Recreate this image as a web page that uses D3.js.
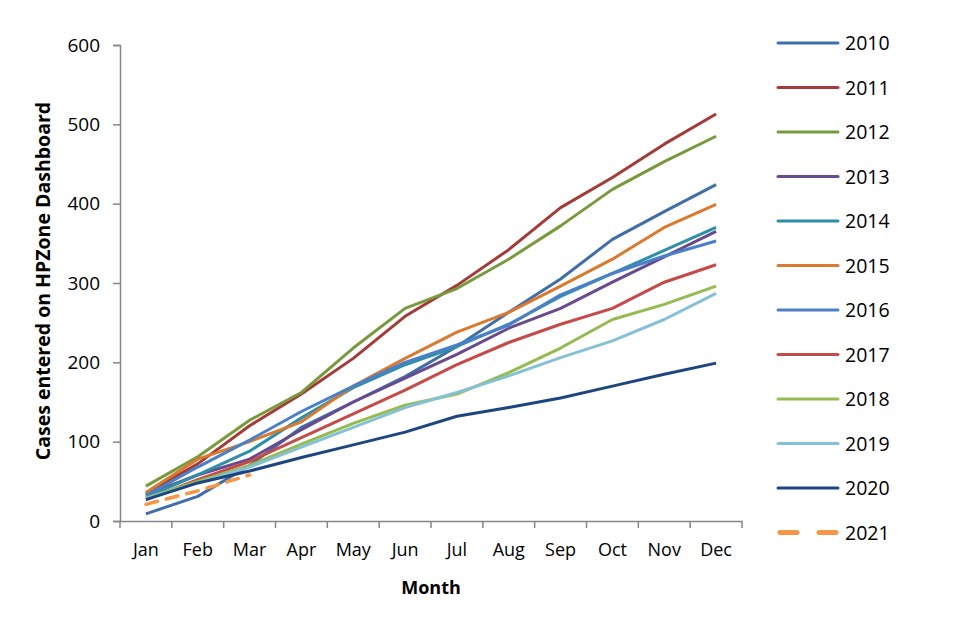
<!DOCTYPE html>
<html lang="en">
<head>
  <meta charset="UTF-8">
  <title></title>
  <style>
    html, body {
      margin: 0;
      overflow: hidden;
      width: 100%;
      height: 100%;
      background: #fff;
    }
    svg {
      position: absolute;
      top: 0;
      left: 0;
    }
  </style>
</head>
<body>
  <svg width="960" height="640"></svg>
</body>
<script src="https://d3js.org/d3.v7.min.js"></script>
<script type="text/javascript">
  const months = ['Jan', 'Feb', 'Mar', 'Apr', 'May', 'Jun', 'Jul', 'Aug', 'Sep', 'Oct', 'Nov', 'Dec']
  const years = ['2010', '2011', '2012', '2013', '2014', '2015', '2016', '2017', '2018', '2019', '2020', '2021']
  const yTicks = [0, 100, 200, 300, 400, 500, 600]

  // cumulative cases per month, one array per year
  const y2010 = [9, 31, 70, 118, 150, 182, 220, 263, 305, 355, 390, 424]
  const y2011 = [35, 72, 120, 160, 205, 258, 297, 342, 395, 433, 475, 513]
  const y2012 = [44, 81, 127, 162, 218, 268, 293, 330, 372, 418, 453, 485]
  const y2013 = [33, 58, 78, 115, 150, 180, 210, 243, 268, 301, 333, 365]
  const y2014 = [30, 58, 88, 130, 168, 197, 220, 248, 283, 312, 341, 370]
  const y2015 = [36, 78, 100, 125, 170, 205, 238, 263, 296, 330, 370, 399]
  const y2016 = [32, 68, 102, 138, 170, 200, 222, 247, 285, 312, 334, 353]
  const y2017 = [27, 52, 75, 105, 135, 165, 197, 225, 248, 268, 301, 323]
  const y2018 = [29, 50, 70, 97, 123, 146, 160, 187, 218, 254, 273, 296]
  const y2019 = [28, 48, 68, 93, 118, 143, 162, 183, 206, 227, 254, 287]
  const y2020 = [27, 48, 63, 80, 96, 112, 132, 143, 155, 170, 185, 199]
  const y2021 = [21, 38, 58]

  const seriesValues = [y2010, y2011, y2012, y2013, y2014, y2015, y2016, y2017, y2018, y2019, y2020, y2021]
  const colors = ['#3f6ea8', '#a33b38', '#789a3d', '#684a8e', '#2d8fa8', '#d97a2f',
    '#4a80c8', '#c64b48', '#94bb4f', '#86c0d6', '#1d4680', '#f79646']

  const series = years.map((year, i) => ({ year, values: seriesValues[i], color: colors[i], dashed: year === '2021' }))

  const font = '"Open Sans", "Liberation Sans", sans-serif'
  const svg = d3.select('svg').style('font-family', font)
  const margin = { left: 120, top: 45, right: 742, bottom: 521 }

  const x = d3.scaleBand().domain(months).range([margin.left, margin.right])
  const y = d3.scaleLinear().domain([0, 600]).range([margin.bottom, margin.top])

  const axisColor = '#868686'

  // y axis
  const yAxis = svg.append('g')
    .attr('transform', `translate(${margin.left},0)`)
    .call(d3.axisLeft(y).tickValues(yTicks).tickSize(7).tickPadding(13))
    .attr('font-family', font)
  yAxis.select('.domain').attr('stroke', axisColor).attr('stroke-width', 1.5)
  yAxis.selectAll('.tick line').attr('stroke', axisColor).attr('stroke-width', 1.5)
  yAxis.selectAll('.tick text').attr('font-size', 19).attr('fill', '#000')

  // x axis, ticks sit between categories
  const xAxis = svg.append('g')
    .attr('transform', `translate(0,${margin.bottom})`)
    .call(d3.axisBottom(x).tickSize(0).tickPadding(22))
    .attr('font-family', font)
  xAxis.select('.domain').attr('stroke', axisColor).attr('stroke-width', 1.5)
  xAxis.selectAll('.tick text').attr('font-size', 18).attr('fill', '#000')
  svg.append('g').selectAll('line')
    .data(months.concat(['end']))
    .enter()
    .append('line')
    .attr('x1', (d, i) => margin.left + i * x.step())
    .attr('x2', (d, i) => margin.left + i * x.step())
    .attr('y1', margin.bottom)
    .attr('y2', margin.bottom + 7)
    .attr('stroke', axisColor)
    .attr('stroke-width', 1.5)

  // lines
  const line = d3.line()
    .x((d, i) => x(months[i]) + x.bandwidth() / 2)
    .y(d => y(d))

  svg.append('g').selectAll('path')
    .data(series)
    .enter()
    .append('path')
    .attr('d', s => line(s.values))
    .attr('fill', 'none')
    .attr('stroke', s => s.color)
    .attr('stroke-width', s => s.dashed ? 3.5 : 3)
    .attr('stroke-linejoin', 'round')
    .attr('stroke-linecap', s => s.dashed ? 'round' : 'butt')
    .attr('stroke-dasharray', s => s.dashed ? '12,9' : null)

  // titles
  svg.append('text')
    .attr('transform', 'translate(50,281) rotate(-90)')
    .attr('text-anchor', 'middle')
    .attr('font-size', 19.5)
    .attr('font-weight', 'bold')
    .text('Cases entered on HPZone Dashboard')

  svg.append('text')
    .attr('x', 431)
    .attr('y', 594)
    .attr('text-anchor', 'middle')
    .attr('font-size', 18)
    .attr('font-weight', 'bold')
    .text('Month')

  // legend
  const legend = svg.append('g').selectAll('g')
    .data(series)
    .enter()
    .append('g')
    .attr('transform', (s, i) => `translate(778,${43 + i * 44.5})`)

  legend.append('line')
    .attr('x1', s => s.dashed ? 2 : 0)
    .attr('x2', s => s.dashed ? 58 : 60)
    .attr('stroke', s => s.color)
    .attr('stroke-width', s => s.dashed ? 5 : 3)
    .attr('stroke-linecap', 'round')
    .attr('stroke-dasharray', s => s.dashed ? '17,22' : null)

  legend.append('text')
    .attr('x', 67)
    .attr('y', 7)
    .attr('font-size', 19.5)
    .text(s => s.year)
</script>
</html>
